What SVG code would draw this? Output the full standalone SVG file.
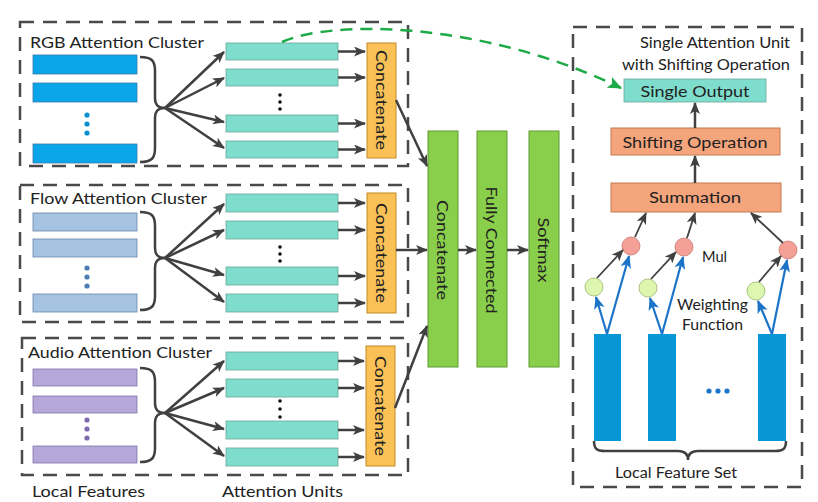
<svg xmlns="http://www.w3.org/2000/svg" width="818" height="502" viewBox="0 0 818 502">
<defs>
<marker id="ah" viewBox="0 0 12 10" refX="11" refY="5" markerWidth="12" markerHeight="10" markerUnits="userSpaceOnUse" orient="auto"><path d="M0,0 L12,5 L0,10 L3,5 z" fill="#404040"/></marker>
<marker id="ahb" viewBox="0 0 12 10" refX="11" refY="5" markerWidth="13" markerHeight="11" markerUnits="userSpaceOnUse" orient="auto"><path d="M0,0 L12,5 L0,10 L3,5 z" fill="#1C74C8"/></marker>
<marker id="ahg" viewBox="0 0 14 12" refX="13" refY="6" markerWidth="14" markerHeight="12" markerUnits="userSpaceOnUse" orient="auto"><path d="M0,0 L14,6 L0,12 L3,6 z" fill="#1EAA46"/></marker>
<style>
text{font-family:Lato,"Open Sans","Liberation Sans",sans-serif;fill:#222;}
.lbl{font-size:16px;}
.box{fill:none;stroke:#4a4a4a;stroke-width:2.5;stroke-dasharray:14 9;}
.rgb{fill:#0AA6E9;stroke:#3a7aa8;stroke-width:0.8;}
.flow{fill:#A6C3E2;stroke:#6688aa;stroke-width:0.8;}
.aud{fill:#B5A8D8;stroke:#7f74a8;stroke-width:0.8;}
.unit{fill:#7EDDCC;stroke:#6aa79a;stroke-width:0.8;}
.cat{fill:#FAC157;stroke:#c48a25;stroke-width:1;}
.grn{fill:#8ACF4B;stroke:#5f9a33;stroke-width:1;}
.org{fill:#F5A57C;stroke:#c27a52;stroke-width:1;}
.fb{fill:#0796D6;}
.ar{stroke:#404040;stroke-width:2.5;fill:none;marker-end:url(#ah);}
.arb{stroke:#1C74C8;stroke-width:2.2;fill:none;marker-end:url(#ahb);}
.arn{stroke:#404040;stroke-width:1.8;fill:none;marker-end:url(#ah);}
.brace{stroke:#404040;stroke-width:2.5;fill:none;}
.mul{fill:#F4A097;stroke:#c9786f;stroke-width:0.8;}
.wf{fill:#DDF6B0;stroke:#97b86a;stroke-width:0.8;}
.vt{font-size:16px;}
</style>
</defs>

<g id="rgb-cluster">
<rect class="box" x="20" y="22" width="388" height="144"/>
<text class="lbl" x="30" y="48" textLength="174" lengthAdjust="spacingAndGlyphs">RGB Attention Cluster</text>
<rect class="rgb" x="33" y="55" width="104" height="19"/>
<rect class="rgb" x="33" y="83" width="104" height="19"/>
<rect class="rgb" x="33" y="144" width="104" height="19"/>
<circle cx="87" cy="115" r="2.6" fill="#0A8FD0"/><circle cx="87" cy="124" r="2.6" fill="#0A8FD0"/><circle cx="87" cy="133" r="2.6" fill="#0A8FD0"/>
<path class="brace" d="M140,57 C152,57 155,61 155,71 L155,98 C155,105 158,108 165,108 C158,108 155,111 155,118 L155,148 C155,158 152,162 140,162"/>
<rect class="unit" x="226" y="43" width="112" height="17"/>
<rect class="unit" x="226" y="69" width="112" height="17"/>
<rect class="unit" x="226" y="115" width="112" height="17"/>
<rect class="unit" x="226" y="141" width="112" height="17"/>
<circle cx="280" cy="95" r="1.8" fill="#111"/><circle cx="280" cy="102" r="1.8" fill="#111"/><circle cx="280" cy="109" r="1.8" fill="#111"/>
<rect class="cat" x="367" y="43" width="29" height="115"/>
<text class="vt" transform="translate(376,100) rotate(90)" text-anchor="middle" textLength="100" lengthAdjust="spacingAndGlyphs">Concatenate</text>
</g>

<g id="flow-cluster">
<rect class="box" x="20" y="185" width="388" height="137"/>
<text class="lbl" x="30" y="204" textLength="177" lengthAdjust="spacingAndGlyphs">Flow Attention Cluster</text>
<rect class="flow" x="33" y="213" width="104" height="18"/>
<rect class="flow" x="33" y="239" width="104" height="18"/>
<rect class="flow" x="33" y="294" width="104" height="18"/>
<circle cx="87" cy="268" r="2.6" fill="#4A7EB5"/><circle cx="87" cy="277" r="2.6" fill="#4A7EB5"/><circle cx="87" cy="286" r="2.6" fill="#4A7EB5"/>
<path class="brace" d="M140,212 C152,212 155,216 155,226 L155,248 C155,255 158,258 165,258 C158,258 155,261 155,268 L155,296 C155,306 152,310 140,310"/>
<rect class="unit" x="226" y="194" width="112" height="18"/>
<rect class="unit" x="226" y="221" width="112" height="18"/>
<rect class="unit" x="226" y="267" width="112" height="18"/>
<rect class="unit" x="226" y="294" width="112" height="18"/>
<circle cx="280" cy="247" r="1.8" fill="#111"/><circle cx="280" cy="254" r="1.8" fill="#111"/><circle cx="280" cy="261" r="1.8" fill="#111"/>
<rect class="cat" x="367" y="193" width="29" height="120"/>
<text class="vt" transform="translate(376,253) rotate(90)" text-anchor="middle" textLength="100" lengthAdjust="spacingAndGlyphs">Concatenate</text>
</g>

<g id="audio-cluster">
<rect class="box" x="22" y="338" width="386" height="137"/>
<text class="lbl" x="28" y="358" textLength="184" lengthAdjust="spacingAndGlyphs">Audio Attention Cluster</text>
<rect class="aud" x="33" y="369" width="104" height="17"/>
<rect class="aud" x="33" y="396" width="104" height="17"/>
<rect class="aud" x="33" y="446" width="104" height="17"/>
<circle cx="87" cy="420" r="2.6" fill="#7E6AAE"/><circle cx="87" cy="429" r="2.6" fill="#7E6AAE"/><circle cx="87" cy="438" r="2.6" fill="#7E6AAE"/>
<path class="brace" d="M140,368 C152,368 155,372 155,382 L155,403 C155,410 158,413 165,413 C158,413 155,416 155,423 L155,448 C155,458 152,462 140,462"/>
<rect class="unit" x="226" y="352" width="112" height="18"/>
<rect class="unit" x="226" y="379" width="112" height="18"/>
<rect class="unit" x="226" y="421" width="112" height="18"/>
<rect class="unit" x="226" y="448" width="112" height="18"/>
<circle cx="280" cy="401" r="1.8" fill="#111"/><circle cx="280" cy="409" r="1.8" fill="#111"/><circle cx="280" cy="417" r="1.8" fill="#111"/>
<rect class="cat" x="366" y="346" width="29" height="120"/>
<text class="vt" transform="translate(375,406) rotate(90)" text-anchor="middle" textLength="100" lengthAdjust="spacingAndGlyphs">Concatenate</text>
</g>

<g id="bottom-labels">
<text class="lbl" x="32" y="497" textLength="113" lengthAdjust="spacingAndGlyphs">Local Features</text>
<text class="lbl" x="222" y="497" textLength="121" lengthAdjust="spacingAndGlyphs">Attention Units</text>
</g>

<g id="concatenate-main">
<rect class="grn" x="428" y="131" width="30" height="236"/>
<text class="vt" transform="translate(437,250) rotate(90)" text-anchor="middle" textLength="100" lengthAdjust="spacingAndGlyphs">Concatenate</text>
</g>
<g id="fully-connected">
<rect class="grn" x="477" y="131" width="30" height="236"/>
<text class="vt" transform="translate(486,250) rotate(90)" text-anchor="middle" textLength="127" lengthAdjust="spacingAndGlyphs">Fully Connected</text>
</g>
<g id="softmax">
<rect class="grn" x="529" y="131" width="30" height="236"/>
<text class="vt" transform="translate(538,250) rotate(90)" text-anchor="middle" textLength="65" lengthAdjust="spacingAndGlyphs">Softmax</text>
</g>

<g id="single-unit-panel">
<rect class="box" x="573" y="27" width="229" height="460"/>
<text x="790" y="48" font-size="14.5" text-anchor="end" textLength="150" lengthAdjust="spacingAndGlyphs">Single Attention Unit</text>
<text x="790" y="70" font-size="14.5" text-anchor="end" textLength="168" lengthAdjust="spacingAndGlyphs">with Shifting Operation</text>
</g>
<g id="single-output">
<rect class="unit" x="624" y="79" width="142" height="23"/>
<text x="695" y="97" font-size="16" text-anchor="middle" textLength="109" lengthAdjust="spacingAndGlyphs">Single Output</text>
</g>
<g id="shifting-operation">
<rect class="org" x="611" y="128" width="169" height="27"/>
<text x="695" y="148" font-size="16" text-anchor="middle" textLength="145" lengthAdjust="spacingAndGlyphs">Shifting Operation</text>
</g>
<g id="summation">
<rect class="org" x="611" y="183" width="170" height="29"/>
<text x="695" y="203" font-size="16" text-anchor="middle" textLength="92" lengthAdjust="spacingAndGlyphs">Summation</text>
</g>
<g id="mul-nodes">
<circle class="mul" cx="631" cy="246" r="9"/>
<circle class="mul" cx="684" cy="247" r="9"/>
<circle class="mul" cx="788" cy="250" r="9"/>
<text x="702" y="262" font-size="14.5" textLength="25" lengthAdjust="spacingAndGlyphs">Mul</text>
</g>
<g id="weighting-nodes">
<circle class="wf" cx="594" cy="287" r="9"/>
<circle class="wf" cx="648" cy="288" r="9"/>
<circle class="wf" cx="756" cy="291" r="9"/>
<text x="677" y="310" font-size="14.5" textLength="71" lengthAdjust="spacingAndGlyphs">Weighting</text>
<text x="682" y="330" font-size="14.5" textLength="61" lengthAdjust="spacingAndGlyphs">Function</text>
</g>
<g id="local-feature-set">
<rect class="fb" x="594" y="334" width="27" height="107"/>
<rect class="fb" x="648" y="334" width="28" height="107"/>
<rect class="fb" x="758" y="334" width="28" height="107"/>
<circle cx="709" cy="391" r="2.6" fill="#1C74C8"/><circle cx="718" cy="391" r="2.6" fill="#1C74C8"/><circle cx="727" cy="391" r="2.6" fill="#1C74C8"/>
<path class="brace" d="M594,441 C594,449 597,451 605,451 L678,451 C684,451 688,454 688,460 C688,454 692,451 698,451 L775,451 C783,451 786,449 786,441"/>
<text x="676" y="478" font-size="14.5" text-anchor="middle" textLength="122" lengthAdjust="spacingAndGlyphs">Local Feature Set</text>
</g>

<g id="connectors">
<path class="ar" d="M165,108 L224,52"/>
<path class="ar" d="M165,108 L224,78"/>
<path class="ar" d="M165,108 L224,122"/>
<path class="ar" d="M165,108 L224,148"/>
<path class="ar" d="M165,258 L224,204"/>
<path class="ar" d="M165,258 L224,230"/>
<path class="ar" d="M165,258 L224,275"/>
<path class="ar" d="M165,258 L224,302"/>
<path class="ar" d="M165,413 L224,361"/>
<path class="ar" d="M165,413 L224,388"/>
<path class="ar" d="M165,413 L224,429"/>
<path class="ar" d="M165,413 L224,456"/>
<path class="ar" d="M338,51.5 L365,51.5"/>
<path class="ar" d="M338,77.5 L365,77.5"/>
<path class="ar" d="M338,123.5 L365,123.5"/>
<path class="ar" d="M338,149.5 L365,149.5"/>
<path class="ar" d="M338,203 L365,203"/>
<path class="ar" d="M338,230 L365,230"/>
<path class="ar" d="M338,276 L365,276"/>
<path class="ar" d="M338,303 L365,303"/>
<path class="ar" d="M338,361 L364,361"/>
<path class="ar" d="M338,388 L364,388"/>
<path class="ar" d="M338,430 L364,430"/>
<path class="ar" d="M338,457 L364,457"/>
<path class="ar" d="M396,100 L427,166"/>
<path class="ar" d="M396,250 L427,250"/>
<path class="ar" d="M395,408 L427,326"/>
<path class="ar" d="M458,250 L476,250"/>
<path class="ar" d="M507,250 L528,250"/>
<path class="ar" d="M695,128 L695,103"/>
<path class="ar" d="M695,183 L695,156"/>
<path class="arn" d="M635,237 L646,213"/>
<path class="arn" d="M687,238 L695,213"/>
<path class="arn" d="M783,243 L751,213"/>
<path class="arn" d="M597,278 L623,250"/>
<path class="arn" d="M651,279 L676,252"/>
<path class="arn" d="M759,282 L781,256"/>
<path class="arb" d="M607,334 L596,297"/>
<path class="arb" d="M607,334 L629,256"/>
<path class="arb" d="M662,334 L650,298"/>
<path class="arb" d="M662,334 L683,257"/>
<path class="arb" d="M772,334 L758,301"/>
<path class="arb" d="M772,334 L787,260"/>
<path d="M282,42 C330,20 480,20 621,88" fill="none" stroke="#1EAA46" stroke-width="2.5" stroke-dasharray="12 8" marker-end="url(#ahg)"/>
</g>
</svg>
